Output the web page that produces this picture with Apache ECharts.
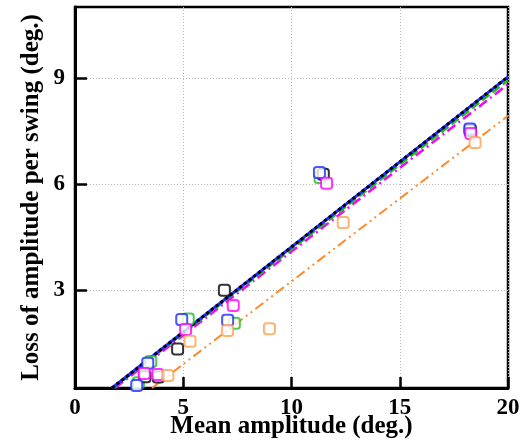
<!DOCTYPE html>
<html>
<head>
<meta charset="utf-8">
<script src="https://cdn.jsdelivr.net/npm/echarts@6/dist/echarts.min.js"></script>
<style>
  html, body { margin: 0; padding: 0; background: #fff; }
  #chart { width: 530px; height: 442px; }
</style>
</head>
<body>
<div id="chart"></div>
<script>
// Axis ticks
const xTicks = [0, 5, 10, 15, 20];
const yTicks = [3, 6, 9];

// Measured points: [mean amplitude, loss per swing]
const blackPts   = [[3.23, 0.57], [3.85, 0.56], [4.74, 1.35], [6.90, 3.01], [11.47, 6.28], [18.25, 7.52]];
const greenPts   = [[2.93, 0.40], [3.50, 1.00], [5.23, 2.20], [7.36, 2.08], [11.32, 6.19], [18.27, 7.50]];
const bluePts    = [[2.85, 0.32], [3.36, 0.95], [4.93, 2.18], [7.05, 2.16], [11.29, 6.33], [18.24, 7.56]];
const magentaPts = [[3.20, 0.66], [3.82, 0.63], [5.11, 1.90], [7.31, 2.58], [11.62, 6.03], [18.28, 7.43]];
const orangePts  = [[4.29, 0.60], [5.31, 1.57], [7.05, 1.87], [8.98, 1.92], [12.39, 4.92], [18.48, 7.18]];

// Fitted lines, end points
const blackFit   = [[1.71, 0.25], [20, 9.03]];
const blueFit    = [[1.71, 0.25], [20, 9.03]];
const greenFit   = [[1.76, 0.25], [20, 8.93]];
const magentaFit = [[1.85, 0.25], [20, 8.82]];
const orangeFit  = [[3.56, 0.25], [20, 7.93]];

const C = {
  black: '#000000',
  blue: '#1f2bff',
  green: '#1fbf1f',
  magenta: '#ff00ff',
  orange: '#ff8a2a',
  orangeMk: '#ffa050'
};

const serif = '"Liberation Serif", "Times New Roman", serif';

function fitLine(data, color, type, width, z) {
  return {
    type: 'line', data: data, symbol: 'none', z: z, silent: true,
    lineStyle: { color: color, width: width, type: type }
  };
}
function pts(data, color, z) {
  return {
    type: 'scatter', data: data, symbol: 'emptyRoundRect', symbolSize: 11, z: z,
    itemStyle: { color: color, borderColor: color, borderWidth: 2 }
  };
}

const chart = echarts.init(document.getElementById('chart'), null, { renderer: 'canvas' });
chart.setOption({
  animation: false,
  backgroundColor: '#fff',
  grid: {
    left: 75, right: 22, top: 7, bottom: 54,
    containLabel: false, outerBoundsMode: 'none',
    show: true, borderColor: '#000', borderWidth: 2.5, backgroundColor: 'transparent'
  },
  xAxis: {
    type: 'value', min: 0, max: 20, interval: 5,
    name: 'Mean amplitude (deg.)', nameLocation: 'middle', nameGap: 26, nameMoveOverlap: false,
    nameTextStyle: { fontFamily: serif, fontWeight: 'bold', fontSize: 25, color: '#000' },
    axisLine: { show: true, onZero: false, lineStyle: { color: '#000', width: 3 } },
    axisTick: { show: true, inside: true, length: 11, lineStyle: { color: '#000', width: 2.5 } },
    axisLabel: { fontFamily: serif, fontWeight: 'bold', fontSize: 23, color: '#000', margin: 9,
      customValues: xTicks },
    splitLine: { show: true, lineStyle: { color: '#b8b8b8', width: 1, type: [1, 2] } }
  },
  yAxis: {
    type: 'value', min: 0.25, max: 11,
    name: 'Loss of amplitude per swing (deg.)', nameLocation: 'middle', nameGap: 31, nameMoveOverlap: false,
    nameTextStyle: { fontFamily: serif, fontWeight: 'bold', fontSize: 25, color: '#000' },
    axisLine: { show: true, onZero: false, lineStyle: { color: '#000', width: 3 } },
    axisTick: { show: true, inside: true, length: 12, customValues: yTicks,
      lineStyle: { color: '#000', width: 2.5 } },
    axisLabel: { fontFamily: serif, fontWeight: 'bold', fontSize: 23, color: '#000', margin: 10,
      customValues: yTicks },
    splitLine: { show: true, customValues: yTicks,
      lineStyle: { color: '#b8b8b8', width: 1, type: [1, 2] } }
  },
  series: [
    fitLine(orangeFit, C.orange, [10, 4, 2, 4, 2, 4], 2, 2),
    fitLine(magentaFit, C.magenta, [10, 4, 2, 4], 2.5, 3),
    fitLine(greenFit, C.green, [9, 4], 2.5, 4),
    fitLine(blueFit, C.blue, 'solid', 3, 5),
    fitLine(blackFit, C.black, [3, 3], 3, 6),
    pts(greenPts, C.green, 10),
    pts(blackPts, C.black, 11),
    pts(bluePts, C.blue, 12),
    pts(magentaPts, C.magenta, 13),
    pts(orangePts, C.orangeMk, 14)
  ]
});
</script>
</body>
</html>
